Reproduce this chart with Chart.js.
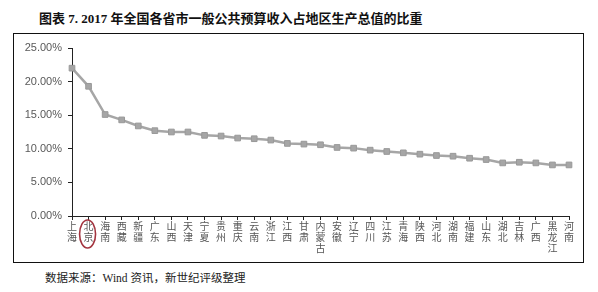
<!DOCTYPE html>
<html>
<head>
<meta charset="utf-8">
<script src="https://cdn.jsdelivr.net/npm/chart.js@4"></script>
<style>
  html, body { margin: 0; padding: 0; background: #fff; }
  body { width: 598px; height: 292px; position: relative; overflow: hidden; }
  #title {
    position: absolute; left: 39px; top: 8px;
    font: bold 13px "Liberation Serif", "Noto Sans CJK SC", serif;
    color: #111; white-space: nowrap;
  }
  #box {
    position: absolute; left: 13px; top: 33px; width: 569px; height: 228px;
    border: 1.5px solid #111;
  }
  #chart { position: absolute; left: 0; top: 0; }
  #source {
    position: absolute; left: 45px; top: 269px;
    font: 11.5px "Liberation Serif", "Noto Sans CJK SC", serif;
    color: #222; white-space: nowrap;
  }
</style>
</head>
<body>
<div id="title">图表 7. 2017 年全国各省市一般公共预算收入占地区生产总值的比重</div>
<div id="box"><canvas id="chart" width="569" height="228"></canvas></div>
<div id="source">数据来源：Wind 资讯，新世纪评级整理</div>
<script>
// ── Data ──
const provinces = ['上海','北京','海南','西藏','新疆','广东','山西','天津','宁夏','贵州',
                   '重庆','云南','浙江','江西','甘肃','内蒙古','安徽','辽宁','四川','江苏',
                   '青海','陕西','河北','湖南','福建','山东','湖北','吉林','广西','黑龙江','河南'];
const ratio = [22.0, 19.3, 15.1, 14.3, 13.4, 12.7, 12.5, 12.5, 12.0, 11.9,
               11.6, 11.5, 11.3, 10.8, 10.7, 10.6, 10.2, 10.1, 9.8, 9.6,
               9.4, 9.2, 9.0, 8.9, 8.6, 8.4, 7.9, 8.0, 7.9, 7.6, 7.6];
const yTicks = [0, 5, 10, 15, 20, 25];
const highlightIndex = 1;   // 北京 is circled

// ── Red circle around the highlighted label ──
const circlePlugin = {
  id: 'circleLabel',
  afterDraw(chart) {
    const x = chart.scales.x;
    const ctx = chart.ctx;
    const cx = x.getPixelForValue(highlightIndex) - 1;
    const cy = x.top + 18;
    ctx.save();
    ctx.strokeStyle = '#a3343f';
    ctx.lineWidth = 1.6;
    ctx.beginPath();
    ctx.ellipse(cx, cy, 8, 14, 0, 0, Math.PI * 2);
    ctx.stroke();
    ctx.restore();
  }
};

new Chart(document.getElementById('chart').getContext('2d'), {
  type: 'line',
  data: {
    // stack characters vertically
    labels: provinces.map(p => p.split('')),
    datasets: [{
      data: ratio,
      borderColor: '#a6a6a6',
      borderWidth: 2.5,
      backgroundColor: '#a6a6a6',
      pointStyle: 'rect',
      pointRadius: 4,
      pointBorderColor: '#999',
      pointBorderWidth: 1,
      tension: 0,
      fill: false,
    }]
  },
  options: {
    responsive: false,
    animation: false,
    layout: { padding: { top: 14, right: 14, left: 0, bottom: 0 } },
    plugins: { legend: { display: false }, tooltip: { enabled: false } },
    scales: {
      x: {
        offset: false,
        grid: { display: true, drawOnChartArea: false, drawTicks: true, tickLength: 4, color: '#222' },
        border: { color: '#222', width: 1 },
        ticks: {
          autoSkip: false, maxRotation: 0, minRotation: 0, padding: 1,
          color: '#555',
          font: { family: '"Noto Sans CJK SC", sans-serif', size: 10, lineHeight: 1.1 },
        },
        afterFit(scale) { scale.height = 46; },
      },
      y: {
        min: 0, max: 25,
        afterBuildTicks(scale) { scale.ticks = yTicks.map(v => ({ value: v })); },
        grid: { display: true, drawOnChartArea: false, drawTicks: true, tickLength: 4, color: '#222' },
        border: { color: '#222', width: 1 },
        ticks: {
          color: '#595959', padding: 6,
          font: { family: '"Liberation Sans", Arial, sans-serif', size: 11 },
          callback: v => v.toFixed(2) + '%',
        },
        afterFit(scale) { scale.width = 58; },
      }
    }
  },
  plugins: [circlePlugin]
});
</script>
</body>
</html>
